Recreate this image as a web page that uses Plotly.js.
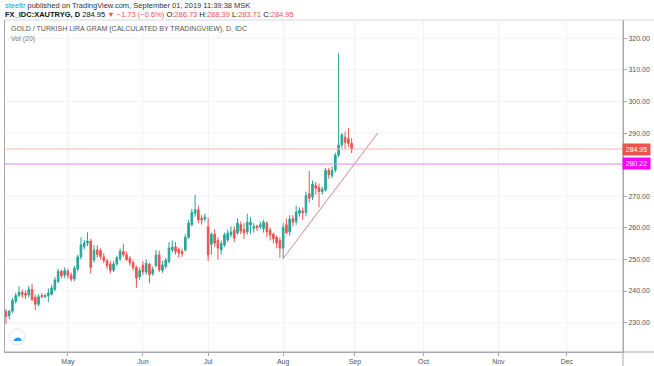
<!DOCTYPE html>
<html>
<head>
<meta charset="utf-8">
<script src="https://cdn.plot.ly/plotly-3.0.1.min.js"></script>
<style>html,body{margin:0;padding:0;background:#fff;}#chart{width:654px;height:366px;}</style>
</head>
<body>
<div id="chart"></div>
<script>
const dates = ["2019-04-04","2019-04-05","2019-04-08","2019-04-09","2019-04-10","2019-04-11","2019-04-12","2019-04-15","2019-04-16","2019-04-17","2019-04-18","2019-04-19","2019-04-22","2019-04-23","2019-04-24","2019-04-25","2019-04-26","2019-04-29","2019-04-30",
"2019-05-01","2019-05-02","2019-05-03","2019-05-06","2019-05-07","2019-05-08","2019-05-09","2019-05-10","2019-05-13","2019-05-14","2019-05-15","2019-05-16","2019-05-17","2019-05-20","2019-05-21","2019-05-22","2019-05-23","2019-05-24","2019-05-27","2019-05-28","2019-05-29","2019-05-30","2019-05-31",
"2019-06-03","2019-06-04","2019-06-05","2019-06-06","2019-06-07","2019-06-10","2019-06-11","2019-06-12","2019-06-13","2019-06-14","2019-06-17","2019-06-18","2019-06-19","2019-06-20","2019-06-21","2019-06-24","2019-06-25","2019-06-26","2019-06-27","2019-06-28",
"2019-07-01","2019-07-02","2019-07-03","2019-07-04","2019-07-05","2019-07-08","2019-07-09","2019-07-10","2019-07-11","2019-07-12","2019-07-15","2019-07-16","2019-07-17","2019-07-18","2019-07-19","2019-07-22","2019-07-23","2019-07-24","2019-07-25","2019-07-26","2019-07-29","2019-07-30","2019-07-31",
"2019-08-01","2019-08-02","2019-08-05","2019-08-06","2019-08-07","2019-08-08","2019-08-09","2019-08-12","2019-08-13","2019-08-14","2019-08-15","2019-08-16","2019-08-19","2019-08-20","2019-08-21","2019-08-22","2019-08-23","2019-08-26","2019-08-27","2019-08-28","2019-08-29","2019-08-30"];

const opens = [233.5,232.2,233.6,236.8,238.6,239.6,239.2,238.8,240.5,238.0,235.8,238.6,238.2,238.5,239.0,240.5,243.0,246.2,245.0,
246.3,245.0,243.8,247.0,250.8,254.0,255.2,255.8,249.8,253.0,252.8,250.8,249.6,248.5,246.6,248.6,250.3,252.6,251.5,250.4,249.0,247.5,244.5,
248.2,246.0,248.5,245.5,248.0,251.4,246.5,247.8,249.3,253.0,254.0,253.2,252.5,253.0,257.0,261.0,264.6,265.7,263.0,262.8,
260.3,254.8,258.0,256.0,253.0,254.6,256.2,257.8,259.3,258.4,261.0,259.5,258.7,260.9,259.9,260.6,260.4,259.8,261.5,259.3,258.0,257.0,256.0,
253.6,261.0,258.7,263.0,262.0,264.6,265.3,264.9,270.8,269.8,273.4,272.8,271.5,272.0,278.2,276.5,278.3,283.0,286.2,288.7,288.2,286.73];

const highs = [234.3,234.0,237.8,239.5,241.5,240.5,240.2,241.6,242.3,238.8,239.0,239.4,239.2,240.8,242.0,244.4,247.0,246.8,247.5,
247.0,245.8,248.0,251.5,257.0,256.2,258.6,256.5,254.5,254.5,253.5,252.0,250.2,249.5,249.5,251.2,253.5,255.0,252.5,251.0,249.8,248.0,247.5,
249.5,250.0,249.0,247.8,253.0,252.8,249.5,250.5,255.5,256.0,255.5,253.8,253.5,258.0,262.5,266.0,270.4,267.0,264.0,264.5,
263.2,258.5,259.5,257.0,256.0,258.5,259.5,260.5,260.5,263.0,262.0,261.5,264.5,263.5,261.5,261.0,262.0,262.5,262.0,260.0,258.5,257.5,257.0,
261.5,263.0,264.0,264.0,267.0,266.5,266.5,271.5,278.0,275.0,274.5,274.0,273.0,279.0,279.0,279.5,283.8,315.3,290.0,290.5,291.6,288.39];

const lows = [229.5,231.0,233.0,236.0,238.0,237.8,237.5,238.0,236.8,234.0,235.2,237.6,237.8,236.5,238.6,240.0,242.5,244.0,244.2,
244.0,243.0,243.2,246.2,250.0,253.2,254.2,245.5,249.0,250.5,250.0,248.8,247.0,245.5,246.0,248.0,249.5,250.8,249.5,248.0,246.5,241.0,243.5,
245.0,245.2,242.5,244.8,247.5,246.0,245.8,247.0,248.8,252.2,251.5,250.5,250.8,252.5,256.5,260.5,263.5,261.5,261.0,262.0,
249.5,251.5,254.0,250.0,251.5,254.0,255.5,257.0,255.5,257.8,258.0,256.5,257.8,258.0,258.5,259.0,259.5,258.5,257.0,256.0,255.0,253.5,250.5,
250.2,258.0,257.5,260.5,261.0,263.5,262.5,263.8,268.0,268.8,270.5,266.5,270.5,271.5,275.5,275.8,277.5,282.3,285.2,285.0,285.5,283.71];

const closes = [232.0,233.6,237.0,238.6,239.6,238.9,238.7,240.6,237.3,235.8,238.2,238.2,238.6,239.4,241.0,243.5,246.2,244.8,246.5,
245.0,243.8,247.2,250.8,254.6,255.2,255.8,247.5,253.0,251.6,250.9,249.6,248.0,246.5,248.6,250.5,252.6,251.5,250.0,248.9,247.4,244.1,246.5,
246.0,248.8,245.2,246.8,251.4,246.7,248.3,249.8,253.6,253.9,252.5,252.0,251.8,257.0,261.5,264.9,265.7,262.5,262.5,263.4,
251.4,258.0,255.2,253.6,255.0,257.8,258.3,258.7,256.8,261.5,259.0,258.4,261.8,261.8,260.4,260.0,261.0,261.8,258.7,257.7,256.6,255.2,253.6,
260.2,258.5,262.8,261.8,265.0,265.6,264.8,270.2,269.4,273.9,272.5,271.5,272.2,278.2,276.8,278.2,283.0,286.2,289.4,287.1,286.7,284.95];

// trend line drawn on the chart
const trendDates = ["2019-08-01", "2019-09-11"];
const trendValues = [250.3, 290.0];

// horizontal price lines and their labels
const priceLines = [284.95, 280.22];
const priceLineColors = ["#f6b3b2", "#f08af0"];
const priceLabelColors = ["#ef5350", "#ff00ff"];

// price axis labels (280.00 is covered by the 280.22 label in the original)
const priceTicks = [230, 240, 250, 260, 270, 290, 300, 310, 320];
const gridPrices = [230, 240, 250, 260, 270, 280, 290, 300, 310, 320];

// time axis labels
const monthTicks = ["2019-05-01","2019-06-03","2019-07-01","2019-08-01","2019-09-02","2019-10-01","2019-11-01","2019-12-02"];
const monthLabels = ["May","Jun","Jul","Aug","Sep","Oct","Nov","Dec"];

const W = 618, H = 332, L = 5, T = 20;
const px = x => (x - L) / W;
const py = y => (T + H - y) / H;

const traces = [
  {
    type: "candlestick",
    x: dates, open: opens, high: highs, low: lows, close: closes,
    increasing: {line: {color: "#26a69a", width: 1}, fillcolor: "#26a69a"},
    decreasing: {line: {color: "#ef5350", width: 1}, fillcolor: "#ef5350"},
    whiskerwidth: 0,
    hoverinfo: "skip",
    showlegend: false
  },
  {
    type: "scatter", mode: "lines",
    x: trendDates, y: trendValues,
    line: {color: "#d08a8a", width: 1},
    hoverinfo: "skip", showlegend: false
  }
];

const shapes = [];
gridPrices.forEach(v => {
  shapes.push({type: "line", xref: "paper", yref: "y", x0: 0, x1: 1, y0: v, y1: v,
    line: {color: "#f0f2f6", width: 1}, layer: "below"});
});
priceLines.forEach((v, i) => {
  shapes.push({type: "line", xref: "paper", yref: "y", x0: 0, x1: 1, y0: v, y1: v,
    line: {color: priceLineColors[i], width: 1}, layer: "above"});
});
// frame extensions
shapes.push({type: "line", xref: "paper", yref: "paper", x0: 1, x1: 1, y0: -14 / H, y1: 1, line: {color: "#a6a9b0", width: 1}});
shapes.push({type: "line", xref: "paper", yref: "paper", x0: 0, x1: px(654), y0: 0, y1: 0, line: {color: "#a6a9b0", width: 1}});
shapes.push({type: "line", xref: "paper", yref: "paper", x0: 0, x1: px(654), y0: 1, y1: 1, line: {color: "#d6d8de", width: 1}});
// logo circle
shapes.push({type: "circle", xref: "paper", yref: "paper", x0: px(9), x1: px(25), y0: py(345), y1: py(329),
  fillcolor: "#ffffff", line: {color: "#e4e6ec", width: 1}});

const annotations = [
  {xref: "paper", yref: "paper", x: px(3), y: py(5), xanchor: "left", yanchor: "middle", showarrow: false,
   text: '<span style="color:#2196f3">steeltr</span> published on TradingView.com, September 01, 2019 11:39:38 MSK',
   font: {family: "Liberation Sans, Arial", size: 7.5, color: "#333"}},
  {xref: "paper", yref: "paper", x: px(3), y: py(14), xanchor: "left", yanchor: "middle", showarrow: false,
   text: '<b>FX_IDC:XAUTRYG, D</b> 284.95 <span style="color:#ef5350">▼ −1.73 (−0.6%)</span> O:<span style="color:#ef5350">286.73</span> H:<span style="color:#ef5350">288.39</span> L:<span style="color:#ef5350">283.71</span> C:<span style="color:#ef5350">284.95</span>',
   font: {family: "Liberation Sans, Arial", size: 7.5, color: "#111"}},
  {xref: "paper", yref: "paper", x: px(9), y: py(29), xanchor: "left", yanchor: "middle", showarrow: false,
   text: "GOLD / TURKISH LIRA GRAM (CALCULATED BY TRADINGVIEW), D, IDC",
   font: {family: "Liberation Sans, Arial", size: 7, color: "#555"}},
  {xref: "paper", yref: "paper", x: px(9), y: py(39), xanchor: "left", yanchor: "middle", showarrow: false,
   text: "Vol (20)",
   font: {family: "Liberation Sans, Arial", size: 7, color: "#777"}},
  {xref: "paper", yref: "paper", x: px(17), y: py(337), xanchor: "center", yanchor: "middle", showarrow: false,
   text: "☁", font: {family: "DejaVu Sans", size: 10, color: "#2196f3"}}
];
priceLines.forEach((v, i) => {
  annotations.push({xref: "paper", yref: "y", x: px(636.5), y: v, xanchor: "center", yanchor: "middle", showarrow: false,
    text: v.toFixed(2), bgcolor: priceLabelColors[i], borderpad: 1, width: 25, height: 9,
    font: {family: "Liberation Sans, Arial", size: 7, color: "#ffffff"}});
});

const layout = {
  width: 654, height: 366,
  margin: {l: L, r: 654 - L - W, t: T, b: 366 - T - H, pad: 0},
  paper_bgcolor: "#ffffff", plot_bgcolor: "#ffffff",
  showlegend: false,
  xaxis: {
    type: "date",
    range: ["2019-04-03 17:00", "2019-12-25 05:00"],
    rangebreaks: [{bounds: ["sat", "mon"]}],
    rangeslider: {visible: false},
    tickmode: "array", tickvals: monthTicks, ticktext: monthLabels,
    showgrid: true, gridcolor: "#f0f2f6", gridwidth: 1,
    showline: true, linecolor: "#a6a9b0", mirror: false,
    ticks: "outside", ticklen: 3, tickcolor: "#a6a9b0",
    tickfont: {family: "Liberation Sans, Arial", size: 7, color: "#555"},
    zeroline: false, fixedrange: true
  },
  yaxis: {
    side: "right",
    range: [220.7, 325.8],
    tickmode: "array", tickvals: priceTicks, tickformat: ".2f",
    showgrid: false,
    showline: true, linecolor: "#a6a9b0", mirror: true,
    ticks: "outside", ticklen: 3, tickcolor: "#a6a9b0",
    tickfont: {family: "Liberation Sans, Arial", size: 7, color: "#555"},
    zeroline: false, fixedrange: true
  },
  shapes: shapes,
  annotations: annotations
};

Plotly.newPlot("chart", traces, layout, {displayModeBar: false, staticPlot: true});
</script>
</body>
</html>
